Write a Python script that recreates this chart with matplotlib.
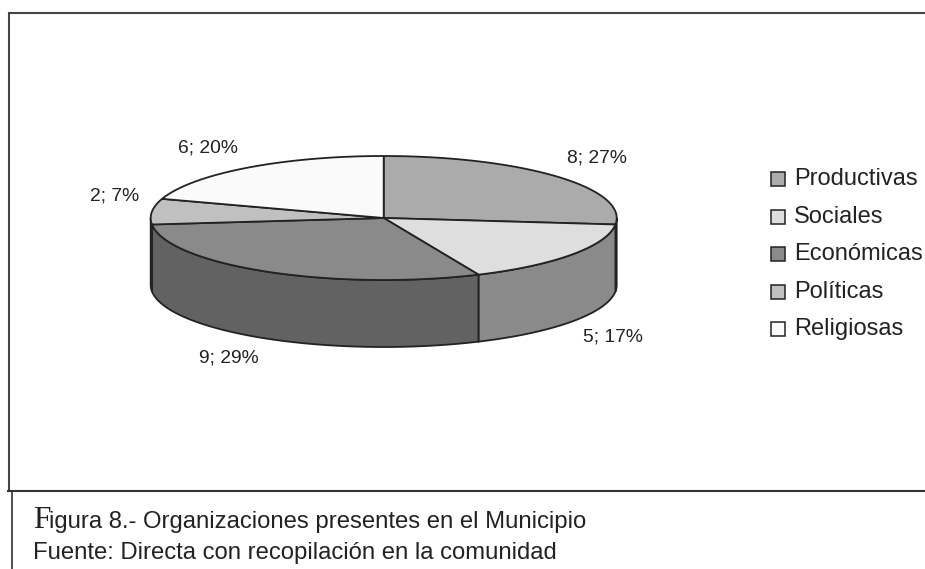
import numpy as np
import matplotlib
matplotlib.use('Agg')
import matplotlib.pyplot as plt

categories = ['Productivas', 'Sociales', 'Económicas', 'Políticas', 'Religiosas']
values = [8, 5, 9, 2, 6]
percents = [27, 17, 29, 7, 20]
top_colors = ['#ABABAB', '#DEDEDE', '#8A8A8A', '#C0C0C0', '#FAFAFA']
side_colors = ['#727272', '#8A8A8A', '#626262', '#808080', '#A0A0A0']
label_pos = [(597, 158), (613, 337), (229, 358), (115, 196), (208, 148)]

plt.rcParams['font.family'] = ['Liberation Sans', 'DejaVu Sans']

# pie geometry in pixels
cx, cy = 383.7, 218
rx, ry = 233, 62
depth = 67
line_color = '#222222'


def rim(a0, a1, n=120):
    t = np.radians(np.linspace(a0, a1, n))
    return cx + rx * np.sin(t), cy - ry * np.cos(t)


fig = plt.figure(figsize=(9.25, 5.69), dpi=100)
ax = fig.add_axes([0, 0, 1, 1])
ax.set_xlim(0, 925)
ax.set_ylim(569, 0)
ax.axis('off')

# frame
ax.plot([9, 9, 925], [491, 13, 13], color='#444444', lw=1.5, solid_joinstyle='miter')
ax.plot([8, 925], [491, 491], color='#333333', lw=1.5)
ax.plot([11.5, 11.5], [491, 569], color='#333333', lw=1.2)

bounds = np.cumsum([0] + values) / sum(values) * 360

# side wall, only the part of the rim that faces front
for i in range(len(values)):
    a0, a1 = max(bounds[i], 90), min(bounds[i + 1], 270)
    if a1 <= a0:
        continue
    x, y = rim(a0, a1)
    ax.fill(np.r_[x, x[::-1]], np.r_[y, y[::-1] + depth],
            facecolor=side_colors[i], edgecolor=line_color, lw=1.3, zorder=2)

# top face
for i in range(len(values)):
    x, y = rim(bounds[i], bounds[i + 1])
    ax.fill(np.r_[cx, x], np.r_[cy, y], facecolor=top_colors[i],
            edgecolor=line_color, lw=1.3, joinstyle='round', zorder=3)

for i in range(len(values)):
    ax.text(label_pos[i][0], label_pos[i][1], f'{values[i]}; {percents[i]}%',
            fontsize=13.9, color='#222222', ha='center', va='center')

# legend
for i, name in enumerate(categories):
    yy = 179 + i * 37.5
    ax.add_patch(plt.Rectangle((771, yy - 7), 14, 14, facecolor=top_colors[i],
                               edgecolor=line_color, lw=1.1))
    ax.text(794, yy, name, fontsize=17.0, color='#222222', ha='left', va='center')

# caption
ax.text(33, 528, 'F', fontsize=22.6, family=['Liberation Serif'], color='#222222',
        ha='left', va='baseline')
ax.text(49, 528, 'igura 8.- Organizaciones presentes en el Municipio', fontsize=17.2,
        color='#222222', ha='left', va='baseline')
ax.text(33, 559, 'Fuente: Directa con recopilación en la comunidad', fontsize=17.2,
        color='#222222', ha='left', va='baseline')

fig.savefig('out.png', dpi=100)
